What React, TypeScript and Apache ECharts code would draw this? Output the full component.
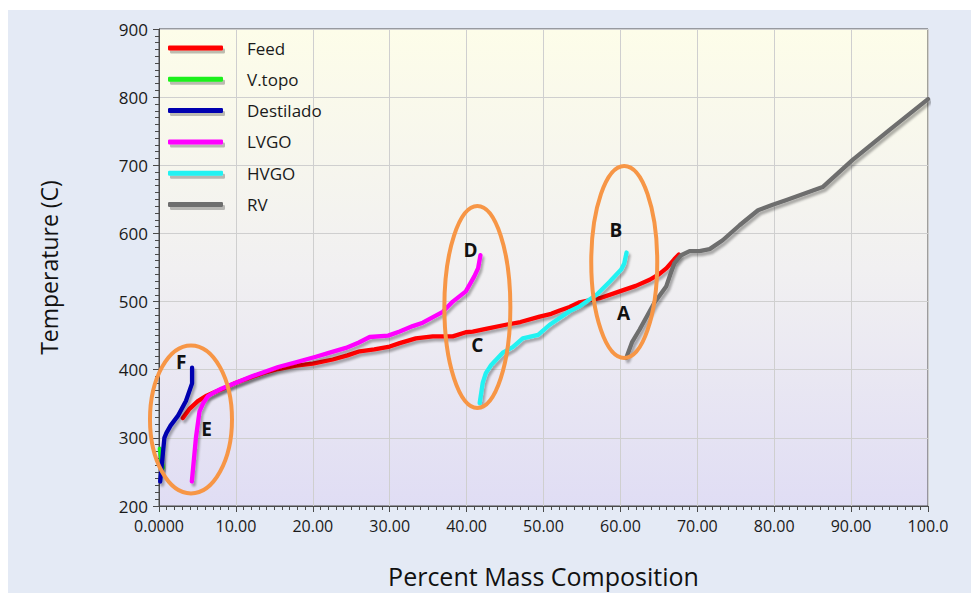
import React, { useEffect, useRef } from "react";
import * as echarts from "echarts";

const seriesNames = ["Feed", "V.topo", "Destilado", "LVGO", "HVGO", "RV"];
const seriesColors = ["#ff0000", "#1ef01e", "#0000b0", "#ff00ff", "#22f2f2", "#6e6e6e"];

const feed: [number, number][] = [
  [3.1, 329], [4.0, 343], [5.05, 354], [6.2, 362], [7.2, 367], [8.3, 372], [10.0, 381],
  [12.0, 389], [13.5, 395], [15.5, 401], [17.8, 406], [20.0, 409], [22.6, 415], [24.5, 421],
  [26.1, 427], [28.0, 430], [30.0, 434], [31.3, 439], [33.4, 446], [35.6, 449], [37.3, 449],
  [38.2, 449], [39.9, 455], [40.8, 456], [42.5, 460], [45.1, 466], [47.0, 470], [49.5, 478],
  [51.0, 482], [52.1, 487], [53.4, 492], [54.7, 499], [57.3, 505], [59.9, 515], [62.0, 523],
  [63.8, 532], [65.0, 540], [66.0, 549], [67.0, 562], [67.6, 569],
];
const vTopo: [number, number][] = [[0.1, 284], [0.3, 270], [0.5, 256]];
const destilado: [number, number][] = [
  [0.15, 236], [0.4, 265], [0.7, 300], [0.95, 307], [1.5, 318], [2.5, 333], [3.5, 354],
  [4.3, 380], [4.3, 403],
];
const lvgo: [number, number][] = [
  [4.27, 236], [4.8, 300], [5.27, 339], [5.8, 352], [6.35, 361], [7.2, 367], [8.1, 372],
  [10.0, 381], [12.0, 390], [13.5, 396], [15.5, 404], [17.8, 411], [20.4, 419], [22.2, 425],
  [24.3, 432], [26.0, 440], [27.4, 448], [29.8, 450], [31.3, 456], [33.0, 464], [34.3, 469],
  [36.9, 485], [38.2, 500], [39.9, 515], [41.0, 537], [41.5, 549], [41.8, 568],
];
const hvgo: [number, number][] = [
  [41.7, 351], [42.1, 381], [42.5, 395], [43.2, 407], [44.7, 425], [46.0, 433], [47.3, 446],
  [49.3, 451], [50.8, 466], [52.1, 476], [53.4, 486], [54.7, 493], [56.9, 510], [58.6, 529],
  [60.1, 547], [60.5, 556], [60.8, 572],
];
const rv: [number, number][] = [
  [60.75, 417], [61.5, 440], [62.5, 459], [64.4, 498], [65.95, 522], [66.5, 540], [67.0, 556],
  [67.9, 568], [69.0, 574], [70.3, 574], [71.6, 577], [73.3, 590], [75.5, 612], [77.9, 634],
  [79.8, 642], [81.6, 649], [86.3, 668], [90.2, 708], [95.0, 752], [100, 797],
];
const seriesData = [feed, vTopo, destilado, lvgo, hvgo, rv];

const xTickLabels = ["0.0000", "10.00", "20.00", "30.00", "40.00", "50.00", "60.00", "70.00", "80.00", "90.00", "100.0"];

// annotation ovals (center in data coords) and letters
const ovalCenters: [number, number][] = [[4.16, 327], [41.4, 492], [60.5, 558]];
const ovalRadii: [number, number][] = [[41, 74], [33, 101], [33, 96]];
const letterNames = ["F", "E", "D", "C", "B", "A"];
const letterPos: [number, number][] = [[2.9, 412], [6.2, 313], [40.5, 575], [41.4, 437], [59.4, 605], [60.4, 483]];

const FONT = '"Open Sans", "Noto Sans", sans-serif';

export default function App() {
  const ref = useRef<HTMLDivElement>(null);
  useEffect(() => {
    if (!ref.current) return;
    const chart = echarts.init(ref.current, null, { renderer: "svg" });
    const shadow = {
      shadowColor: "rgba(0,0,0,0.3)",
      shadowBlur: 2,
      shadowOffsetX: 2,
      shadowOffsetY: 3,
    };
    chart.setOption({
      animation: false,
      grid: {
        left: 151,
        top: 19,
        width: 769,
        height: 478,
        show: true,
        backgroundColor: new echarts.graphic.LinearGradient(0, 0, 0, 1, [
          { offset: 0, color: "#fdfde9" },
          { offset: 0.5, color: "#f1f0f1" },
          { offset: 1, color: "#e0ddf4" },
        ]),
        borderColor: "#4a4a4a",
        borderWidth: 1,
      },
      legend: {
        left: 160,
        top: 28,
        orient: "vertical",
        padding: 0,
        icon: "roundRect",
        itemWidth: 55,
        itemHeight: 5,
        itemGap: 11.3,
        data: seriesNames,
        textStyle: {
          fontFamily: FONT,
          fontSize: 17,
          color: "#1a1a1a",
          lineHeight: 20,
          padding: [0, 0, 0, 19],
        },
        itemStyle: { shadowColor: "rgba(0,0,0,0.25)", shadowBlur: 1, shadowOffsetX: 2, shadowOffsetY: 3 },
      },
      xAxis: {
        type: "value",
        min: 0,
        max: 100,
        interval: 10,
        name: "Percent Mass Composition",
        nameLocation: "middle",
        nameGap: 57,
        nameTextStyle: { fontFamily: FONT, fontSize: 25, color: "#111" },
        axisLine: { show: true, lineStyle: { color: "#4a4a4a", width: 1 } },
        axisTick: { show: true, length: 6, lineStyle: { color: "#4a4a4a" } },
        minorTick: { show: true, splitNumber: 10, length: 4, lineStyle: { color: "#4a4a4a" } },
        axisLabel: {
          margin: 12,
          fontFamily: FONT,
          fontSize: 16,
          color: "#1a1a1a",
          formatter: (v: number) => xTickLabels[Math.round(v / 10)] ?? String(v),
        },
        splitLine: { show: true, lineStyle: { color: "#cfcfcf", width: 1 } },
      },
      yAxis: {
        type: "value",
        min: 200,
        max: 900,
        interval: 100,
        name: "Temperature (C)",
        nameLocation: "middle",
        nameGap: 99,
        nameTextStyle: { fontFamily: FONT, fontSize: 23, color: "#111" },
        axisLine: { show: true, lineStyle: { color: "#4a4a4a", width: 1 } },
        axisTick: { show: true, length: 6, lineStyle: { color: "#4a4a4a" } },
        minorTick: { show: true, splitNumber: 10, length: 4, lineStyle: { color: "#4a4a4a" } },
        axisLabel: { margin: 11, fontFamily: FONT, fontSize: 17, lineHeight: 16, color: "#1a1a1a" },
        splitLine: { show: true, lineStyle: { color: "#cfcfcf", width: 1 } },
      },
      series: seriesNames.map((name, i) => ({
        name,
        type: "line",
        data: seriesData[i],
        showSymbol: false,
        symbol: "none",
        smooth: false,
        color: seriesColors[i],
        itemStyle: { color: seriesColors[i] },
        lineStyle: { color: seriesColors[i], width: 4.3, cap: "round", join: "round", ...shadow },
        z: 2 + i,
      })),
    });

    const graphics: any[] = [];
    ovalCenters.forEach((c, i) => {
      const p = chart.convertToPixel({ gridIndex: 0 }, c) as number[];
      graphics.push({
        type: "ellipse",
        shape: { cx: p[0], cy: p[1], rx: ovalRadii[i][0], ry: ovalRadii[i][1] },
        style: { fill: "none", stroke: "#f79646", lineWidth: 4 },
        z: 20,
      });
    });
    letterNames.forEach((t, i) => {
      const p = chart.convertToPixel({ gridIndex: 0 }, letterPos[i]) as number[];
      graphics.push({
        type: "text",
        x: p[0],
        y: p[1],
        style: {
          text: t,
          font: `bold 19px ${FONT}`,
          fill: "#111",
          align: "center",
          verticalAlign: "middle",
        },
        z: 21,
      });
    });
    chart.setOption({ graphic: graphics });

    return () => chart.dispose();
  }, []);

  return (
    <div
      style={{
        position: "absolute",
        left: 8,
        top: 10,
        width: 963,
        height: 583,
        background: "#e4eaf5",
      }}
    >
      <div ref={ref} style={{ width: 963, height: 583 }} />
    </div>
  );
}
